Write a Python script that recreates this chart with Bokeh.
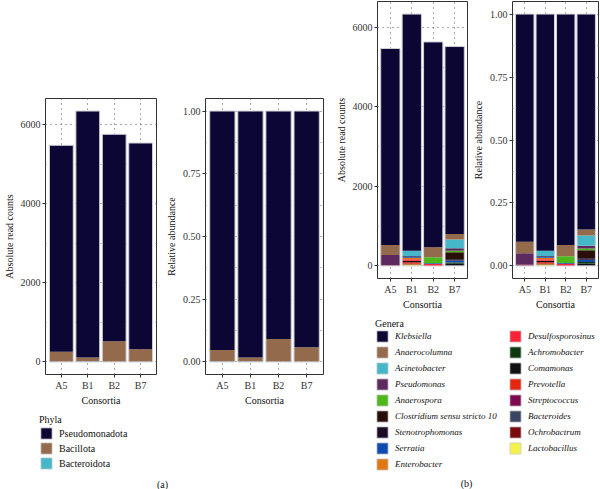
import numpy as np
from bokeh.plotting import figure
from bokeh.models import (ColumnDataSource, FactorRange, Range1d, FixedTicker,
                          NumeralTickFormatter, Legend, LegendItem, Label)
from bokeh.layouts import row, column
from bokeh.embed import file_html
from bokeh.resources import INLINE

# ---------------- data ----------------
samples = ["A5", "B1", "B2", "B7"]

phyla = ["Pseudomonadota", "Bacillota", "Bacteroidota"]
phyla_colors = ["#0b0633", "#946a4c", "#46b7c9"]
pseudomonadota = [5216, 6230, 5229, 5212]
bacillota = [253, 101, 523, 320]
bacteroidota = [8, 12, 3, 3]

genera = ["Klebsiella", "Anaerocolumna", "Acinetobacter", "Pseudomonas", "Anaerospora",
          "Clostridium sensu stricto 10", "Stenotrophomonas", "Serratia", "Enterobacter",
          "Desulfosporosinus", "Achromobacter", "Comamonas", "Prevotella", "Streptococcus",
          "Bacteroides", "Ochrobactrum", "Lactobacillus"]
genera_colors = ["#0b0633", "#946a4c", "#46b7c9", "#5c2a5e", "#4cb81a",
                 "#2a0e08", "#1c0b26", "#0f4aae", "#df7812",
                 "#fa2236", "#0d3a0d", "#0f0f14", "#e5260f", "#7e0a52",
                 "#3a4561", "#790a0c", "#f4f24a"]
klebsiella = [4942, 5950, 5166, 4717]
anaerocolumna = [250, 0, 250, 133]
acinetobacter = [0, 133, 0, 225]
pseudomonas = [250, 0, 0, 59]
anaerospora = [0, 0, 150, 41]
clostridium = [0, 0, 0, 175]
stenotrophomonas = [0, 15, 0, 34]
serratia = [0, 30, 20, 50]
enterobacter = [0, 40, 0, 0]
desulfosporosinus = [10, 35, 47, 0]
achromobacter = [0, 0, 0, 30]
comamonas = [0, 35, 0, 40]
prevotella = [0, 40, 0, 0]
streptococcus = [10, 0, 0, 0]
bacteroides = [0, 0, 0, 13]
ochrobactrum = [5, 20, 0, 0]
lactobacillus = [0, 35, 0, 0]

abs_ticks = [0, 2000, 4000, 6000]
rel_ticks = [0, 0.25, 0.5, 0.75, 1.0]

phyla_values = [pseudomonadota, bacillota, bacteroidota]
genera_values = [klebsiella, anaerocolumna, acinetobacter, pseudomonas, anaerospora,
                 clostridium, stenotrophomonas, serratia, enterobacter, desulfosporosinus,
                 achromobacter, comamonas, prevotella, streptococcus, bacteroides,
                 ochrobactrum, lactobacillus]

SERIF = "Liberation Serif"
DARK = "#333333"


def make_fig(width, height, mbl, mbr, mbt, mbb, colors, values, rel, ylabel, ystand):
    n = len(samples)
    totals = [sum(v[i] for v in values) for i in range(n)]
    data = {"sample": samples}
    keys = []
    for k, vals in enumerate(values):
        key = "s%d" % k
        keys.append(key)
        data[key] = [v / t if rel else v for v, t in zip(vals, totals)]
    tops = [sum(data[k][i] for k in keys) for i in range(n)]
    ymax = max(tops)
    yr = Range1d(-0.05 * ymax, ymax * 1.05)
    p = figure(width=width, height=height,
               x_range=FactorRange(factors=samples, range_padding=0.1,
                                   range_padding_units="absolute"),
               y_range=yr, output_backend="svg", toolbar_location=None,
               min_border_left=mbl, min_border_right=mbr,
               min_border_top=mbt, min_border_bottom=mbb)
    src = ColumnDataSource(data)
    p.vbar_stack(keys[::-1], x="sample", width=0.9, fill_color=colors[::-1],
                 line_color=None, source=src)
    osrc = ColumnDataSource(dict(sample=samples, top=tops))
    p.vbar(x="sample", top="top", bottom=0, width=0.9, fill_color=None,
           line_color="#cfcfd6", line_width=1, source=osrc)

    ticks = rel_ticks if rel else abs_ticks
    minor = [(a + b) / 2 for a, b in zip(ticks, ticks[1:])]
    tk = FixedTicker(ticks=ticks, minor_ticks=minor)
    p.yaxis.ticker = tk
    p.ygrid.ticker = tk
    p.yaxis.formatter = NumeralTickFormatter(format="0.00" if rel else "0")
    p.xaxis.axis_label = "Consortia"
    p.yaxis.axis_label = ylabel
    for ax in [p.xaxis[0], p.yaxis[0]]:
        ax.major_label_text_font = SERIF
        ax.major_label_text_font_size = "10px"
        ax.major_label_text_color = DARK
        ax.axis_label_text_font = SERIF
        ax.axis_label_text_font_size = "10px"
        ax.axis_label_text_font_style = "normal"
        ax.axis_label_text_color = "#111111"
        ax.major_tick_out = 3
        ax.major_tick_in = 0
        ax.minor_tick_out = 0
        ax.minor_tick_in = 0
        ax.major_label_standoff = 2
        ax.axis_line_color = None
        ax.major_tick_line_color = DARK
    p.xaxis.axis_label_standoff = 1
    p.yaxis.axis_label_standoff = ystand
    p.xgrid.grid_line_color = "#555555"
    p.xgrid.grid_line_dash = "1 4"
    p.ygrid.grid_line_color = "#555555"
    p.ygrid.grid_line_dash = "1 4"
    p.ygrid.minor_grid_line_color = "#888888"
    p.ygrid.minor_grid_line_dash = "1 4"
    p.outline_line_color = DARK
    p.outline_line_width = 1
    p.outline_line_alpha = 1
    return p


def legend_fig(width, height, mbl, mbt, names, colors, title, italic, size, spacing,
               standoff):
    p = figure(width=width, height=height, x_range=Range1d(0, 1), y_range=Range1d(0, 1),
               output_backend="svg", toolbar_location=None,
               min_border_left=mbl, min_border_top=mbt, min_border_right=0,
               min_border_bottom=0, x_axis_type=None, y_axis_type=None)
    p.outline_line_color = None
    items = []
    for nm, c in zip(names, colors):
        # legend key only: a single NaN point, so nothing is drawn in the frame
        r = p.vbar(x=np.array([np.nan]), top=np.array([np.nan]), width=0.1,
                   fill_color=c, line_color="#d0d0d0", line_width=0.8)
        items.append(LegendItem(label=nm, renderers=[r]))
    leg = Legend(items=items, location="top_left", title=title,
                 title_text_font=SERIF, title_text_font_size="10px",
                 title_text_font_style="normal", title_text_color="#111111",
                 title_standoff=standoff,
                 label_text_font=SERIF, label_text_font_size=size,
                 label_text_font_style="italic" if italic else "normal",
                 label_text_color="#111111",
                 glyph_width=14, glyph_height=14, label_height=11, label_width=10,
                 label_standoff=6, spacing=spacing, padding=0, margin=0,
                 border_line_color=None, background_fill_alpha=0)
    p.add_layout(leg, "center")
    return p


# panel (a)
f1 = make_fig(157, 410, 40, 1, 98, 36, phyla_colors, phyla_values, False,
              "Absolute read counts", 3)
f2 = make_fig(169, 410, 48, 3, 98, 36, phyla_colors, phyla_values, True,
              "Relative abundance", 3)
legA = legend_fig(326, 79, 39, 4, phyla, phyla_colors, "Phyla", False, "10px", 1, 1)
legA.add_layout(Label(x=123, y=5, x_units="screen", y_units="screen", text="(a)",
                      text_align="center", text_baseline="middle", text_font=SERIF,
                      text_font_size="10px", text_color="#111111"))

# panel (b)
f3 = make_fig(143, 312, 51, 2, 1, 34, genera_colors, genera_values, False,
              "Absolute read counts", 3)
f4 = make_fig(131, 312, 39, 2, 1, 34, genera_colors, genera_values, True,
              "Relative abundance", 3)
legBL = legend_fig(179, 177, 49, 6, genera[:9], genera_colors[:9], "Genera", True,
                   "9px", 2, 0)
legBL.add_layout(Label(x=91, y=6, x_units="screen", y_units="screen", text="(b)",
                       text_align="center", text_baseline="middle", text_font=SERIF,
                       text_font_size="10px", text_color="#111111"))
legBR = legend_fig(95, 177, 3, 6, genera[9:], genera_colors[9:], " ", True, "9px", 2, 0)

panel_a = column(row(f1, f2), legA)
panel_b = column(row(f3, f4), row(legBL, legBR))
root = row(panel_a, panel_b)

open("out.html", "w").write(file_html(root, INLINE))
